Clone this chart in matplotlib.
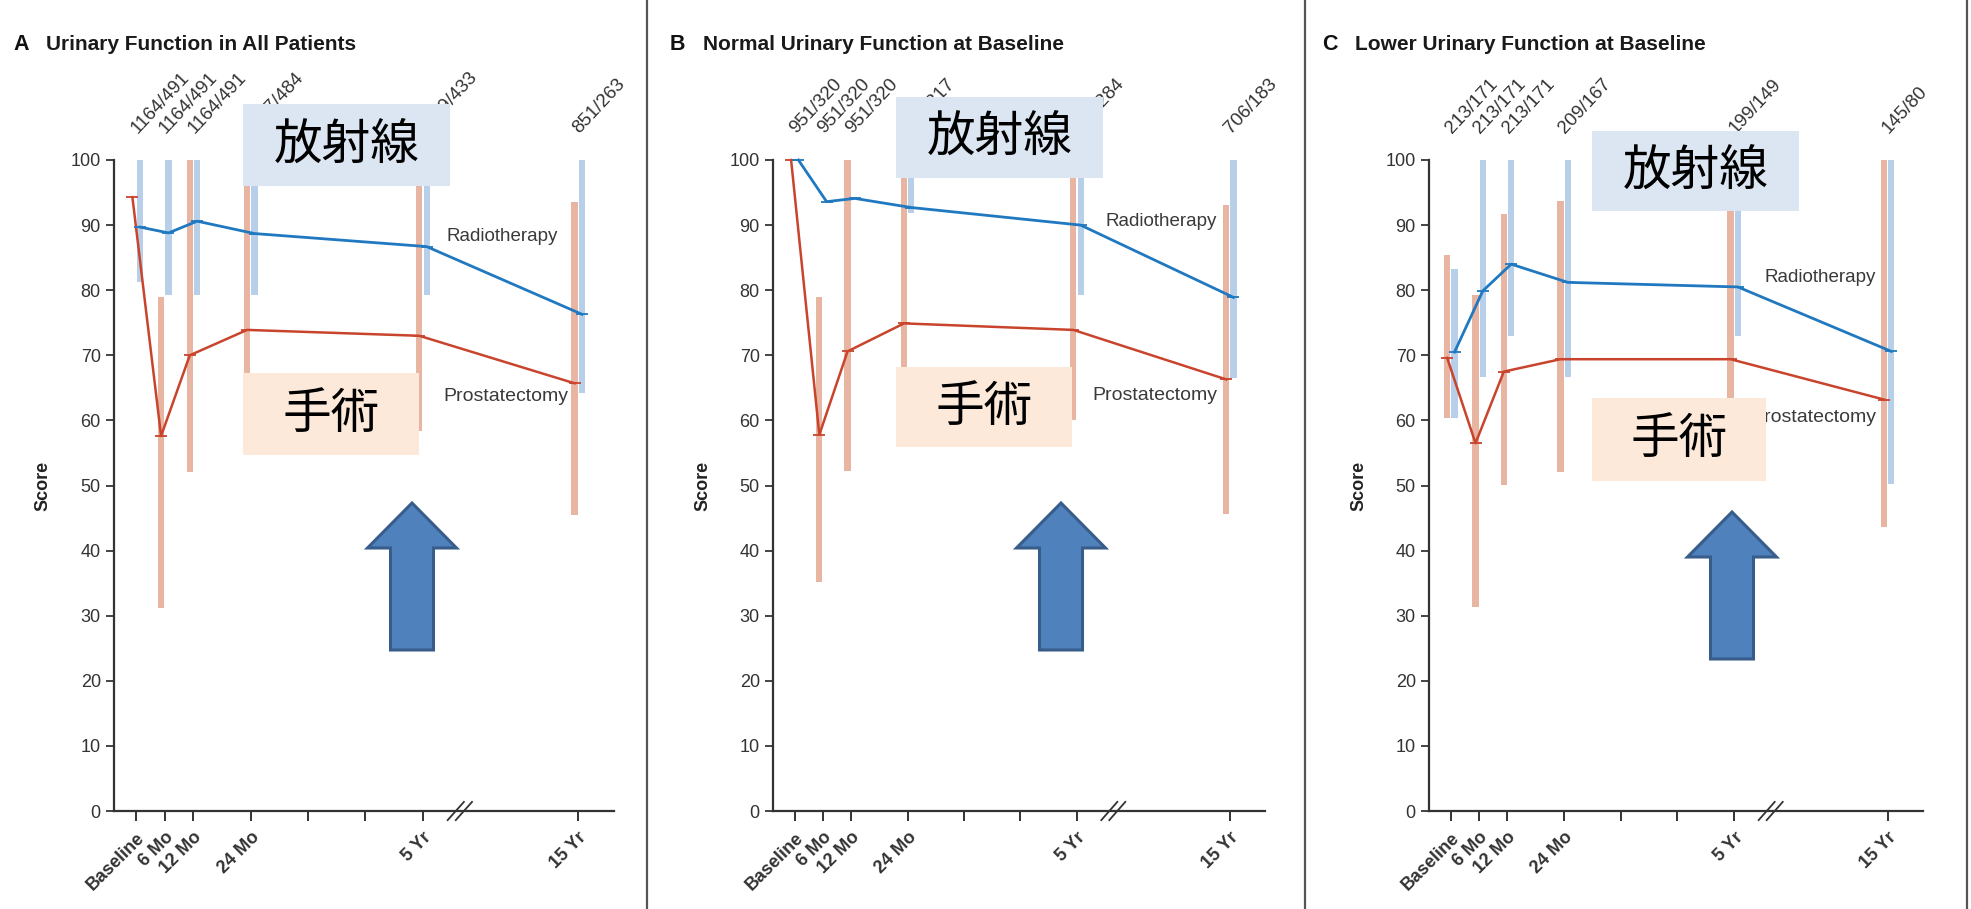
import numpy as np
import matplotlib
matplotlib.use("Agg")
import matplotlib.pyplot as plt
from matplotlib.patches import Rectangle, Polygon
from matplotlib.lines import Line2D

plt.rcParams['font.family'] = ['Liberation Sans', 'Noto Sans CJK JP', 'DejaVu Sans']

nan = np.nan

# time points (months since baseline)
timepoints = ["Baseline", "6 Mo", "12 Mo", "24 Mo", "5 Yr", "15 Yr"]
months = [0, 6, 12, 24, 60, 180]

# panel A: all patients
a_counts = ["1164/491", "1164/491", "1164/491", "1157/484", "1049/433", "851/263"]
a_rt_median = [89.7, 88.8, 90.6, 88.7, 86.7, 76.3]
a_rp_median = [94.3, 57.6, 70.0, 73.9, 73.0, 65.7]
a_rt_low = [81.2, 79.2, 79.2, 79.2, 79.2, 64.2]
a_rt_high = [100, 100, 100, 100, 100, 100]
a_rp_low = [nan, 31.2, 52.1, 58.0, 58.3, 45.5]
a_rp_high = [nan, 79.0, 100, 100, 100, 93.6]

# panel B: normal urinary function at baseline
b_counts = ["951/320", "951/320", "951/320", "943/317", "829/284", "706/183"]
b_rt_median = [100, 93.6, 94.1, 92.7, 90.0, 78.9]
b_rp_median = [100, 57.8, 70.6, 74.9, 73.9, 66.3]
b_rt_low = [nan, nan, nan, 91.8, 79.3, 66.5]
b_rt_high = [nan, nan, nan, 100, 100, 100]
b_rp_low = [nan, 35.1, 52.2, 58.3, 60.0, 45.6]
b_rp_high = [nan, 79.0, 100, 100, 100, 93.1]

# panel C: lower urinary function at baseline
c_counts = ["213/171", "213/171", "213/171", "209/167", "199/149", "145/80"]
c_rt_median = [70.5, 79.9, 84.0, 81.2, 80.5, 70.6]
c_rp_median = [69.6, 56.5, 67.5, 69.4, 69.4, 63.2]
c_rt_low = [60.4, 66.7, 73.0, 66.7, 73.0, 50.2]
c_rt_high = [83.3, 100, 100, 100, 100, 100]
c_rp_low = [60.4, 31.3, 50.1, 52.1, 55.0, 43.6]
c_rp_high = [85.4, 79.2, 91.7, 93.7, 100, 100]

RT_LINE = "#2079c0"
RP_LINE = "#c9442c"
RT_BAR = "#b7cfe9"
RP_BAR = "#e8b5a3"
TXT = "#333333"

W, H = 1971, 909


def axis_pos(m):
    # axis is broken after 5 years; later time points are compressed
    m = np.asarray(m, dtype=float)
    return np.where(m <= 60, m, 60 + (m - 60) * 32.5 / 120)


def draw_panel(ax, counts, rt_med, rp_med, rt_lo, rt_hi, rp_lo, rp_hi, label_pos):
    x = axis_pos(months)
    xr = x - 0.75
    xb = x + 0.8
    rp_lo, rp_hi = np.array(rp_lo), np.array(rp_hi)
    rt_lo, rt_hi = np.array(rt_lo), np.array(rt_hi)
    ax.bar(xr, rp_hi - rp_lo, bottom=rp_lo, width=1.3, color=RP_BAR, zorder=1)
    ax.bar(xb, rt_hi - rt_lo, bottom=rt_lo, width=1.3, color=RT_BAR, zorder=1)
    ax.plot(xr, rp_med, color=RP_LINE, lw=1.8, marker="_", ms=8, mew=1.3,
            zorder=3, clip_on=False)
    ax.plot(xb, rt_med, color=RT_LINE, lw=2.0, marker="_", ms=8, mew=1.3,
            zorder=3, clip_on=False)

    for xi, c in zip(x, counts):
        ax.text(xi + 0.9, 103.6, c, rotation=47, rotation_mode="anchor",
                ha="left", va="bottom", fontsize=13.5, color=TXT, clip_on=False)

    (rx, ry), (px, py) = label_pos
    ax.text(rx, ry, "Radiotherapy", ha="right", va="center", fontsize=13.5, color="#3a3a3a")
    ax.text(px, py, "Prostatectomy", ha="right", va="center", fontsize=14, color="#3a3a3a")

    ax.set_xlim(-4.6, 100)
    ax.set_ylim(0, 100)
    ticks = list(axis_pos(months[:4])) + [36, 48] + list(axis_pos(months[4:]))
    tlabels = timepoints[:4] + ["", ""] + timepoints[4:]
    ax.set_xticks(ticks)
    ax.set_xticklabels(tlabels, rotation=45, ha="right", rotation_mode="anchor",
                       fontsize=13, fontweight="bold", color="#222222")
    ax.set_yticks(range(0, 101, 10))
    ax.tick_params(axis="y", labelsize=13, colors="#444444", length=6, width=1.4,
                   labelcolor=TXT)
    ax.tick_params(axis="x", length=7, width=1.4, colors="#333333", pad=6)
    for s in ("top", "right"):
        ax.spines[s].set_visible(False)
    for s in ("left", "bottom"):
        ax.spines[s].set_linewidth(1.6)
        ax.spines[s].set_color("#333333")
    ax.set_ylabel("Score", fontsize=13, fontweight="bold", color="#222222")
    ax.yaxis.set_label_coords(-0.125, 0.5)

    # break marks on the x axis
    tr = ax.get_xaxis_transform()
    for off in (0, 1.7):
        ax.plot([65.2 + off, 68.6 + off], [-0.014, 0.014], color="#333333", lw=1.3,
                transform=tr, clip_on=False, zorder=5)


fig = plt.figure(figsize=(W / 100, H / 100), dpi=100)
fig.patch.set_facecolor("white")


def px_axes(left, width):
    return fig.add_axes([left / W, (H - 811) / H, width / W, 651 / H])


axA = px_axes(114, 500)
axB = px_axes(773, 492)
axC = px_axes(1429, 494)

draw_panel(axA, a_counts, a_rt_median, a_rp_median, a_rt_low, a_rt_high,
           a_rp_low, a_rp_high, ((88.3, 88.2), (90.4, 63.7)))
draw_panel(axB, b_counts, b_rt_median, b_rp_median, b_rt_low, b_rt_high,
           b_rp_low, b_rp_high, ((89.8, 90.5), (89.8, 63.9)))
draw_panel(axC, c_counts, c_rt_median, c_rp_median, c_rt_low, c_rt_high,
           c_rp_low, c_rp_high, ((90.1, 81.9), (90.1, 60.4)))

# panel titles
titles = [("A", "Urinary Function in All Patients", 13),
          ("B", "Normal Urinary Function at Baseline", 670),
          ("C", "Lower Urinary Function at Baseline", 1322)]
for letter, title, x0 in titles:
    fig.text(x0 / W, 1 - 44 / H, letter, fontsize=15.5, fontweight="bold",
             color="#111111", va="center", ha="left")
    fig.text((x0 + 33) / W, 1 - 44 / H, title, fontsize=15, fontweight="bold",
             color="#1a1a1a", va="center", ha="left")

# panel separators
for xs in (647, 1305, 1967):
    fig.add_artist(Line2D([xs / W, xs / W], [0, 1], color="#555555", lw=1.6))


def label_box(x0, y0, x1, y1, text, face):
    fig.add_artist(Rectangle((x0 / W, 1 - y1 / H), (x1 - x0) / W, (y1 - y0) / H,
                             transform=fig.transFigure, facecolor=face,
                             edgecolor="none", zorder=10))
    fig.text((x0 + x1) / 2 / W, 1 - (y0 + y1) / 2 / H, text, fontsize=35,
             family=["Noto Sans CJK JP"], color="black", ha="center",
             va="center", zorder=11)


def up_arrow(cx, tip, bottom, head_w=89, shaft_w=43, head_h=45):
    pts = [(cx, tip), (cx + head_w / 2, tip + head_h), (cx + shaft_w / 2, tip + head_h),
           (cx + shaft_w / 2, bottom), (cx - shaft_w / 2, bottom),
           (cx - shaft_w / 2, tip + head_h), (cx - head_w / 2, tip + head_h)]
    pts = [(px / W, 1 - py / H) for px, py in pts]
    fig.add_artist(Polygon(pts, closed=True, transform=fig.transFigure,
                           facecolor="#4f81bd", edgecolor="#385d8a", lw=2.2,
                           joinstyle="miter", zorder=10))


label_box(243, 104, 450, 186, "放射線", "#dce6f2")
label_box(243, 373, 419, 455, "手術", "#fde9d9")
label_box(896, 97, 1103, 178, "放射線", "#dce6f2")
label_box(896, 367, 1072, 447, "手術", "#fde9d9")
label_box(1592, 131, 1799, 211, "放射線", "#dce6f2")
label_box(1592, 398, 1766, 481, "手術", "#fde9d9")

up_arrow(412, 503, 650)
up_arrow(1061, 503, 650)
up_arrow(1732, 512, 659)

fig.savefig("out.png", dpi=100, facecolor="white")
